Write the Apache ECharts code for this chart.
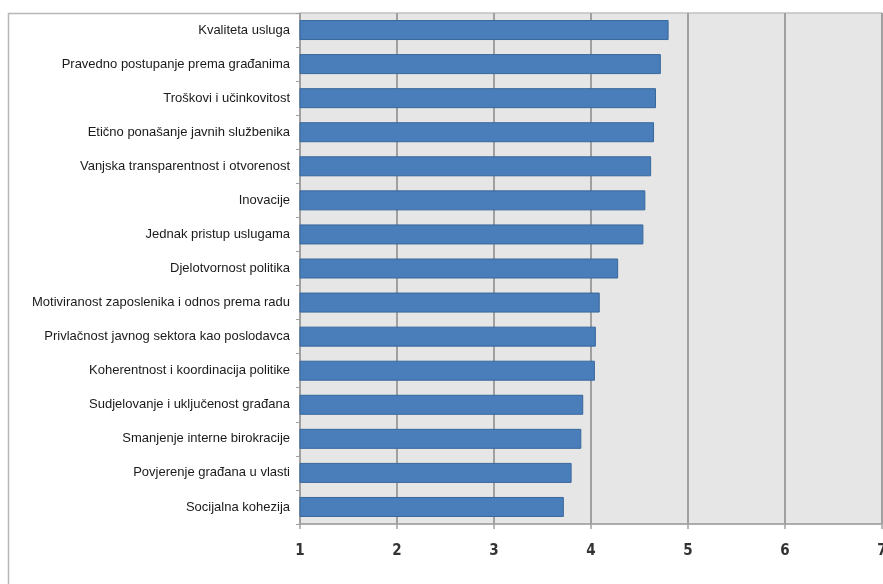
<!DOCTYPE html>
<html><head><meta charset="utf-8">
<script src="https://cdn.jsdelivr.net/npm/echarts@6/dist/echarts.min.js"></script>
<style>html,body{margin:0;padding:0;background:#fff}#c{width:883px;height:584px}</style>
</head><body><div id="c"></div>
<script>
const categories = [
  "Kvaliteta usluga",
  "Pravedno postupanje prema građanima",
  "Troškovi i učinkovitost",
  "Etično ponašanje javnih službenika",
  "Vanjska transparentnost i otvorenost",
  "Inovacije",
  "Jednak pristup uslugama",
  "Djelotvornost politika",
  "Motiviranost zaposlenika i odnos prema radu",
  "Privlačnost javnog sektora kao poslodavca",
  "Koherentnost i koordinacija politike",
  "Sudjelovanje i uključenost građana",
  "Smanjenje interne birokracije",
  "Povjerenje građana u vlasti",
  "Socijalna kohezija"
];
const values = [4.80, 4.72, 4.67, 4.65, 4.62, 4.56, 4.54, 4.28, 4.09, 4.05, 4.04, 3.92, 3.90, 3.80, 3.72];
const xTicks = [1, 2, 3, 4, 5, 6, 7];

const chart = echarts.init(document.getElementById('c'));
chart.setOption({
  animation: false,
  graphic: [{
    type: 'rect', silent: true, z: -10,
    shape: { x: 8.5, y: 13.5, width: 1000, height: 1000 },
    style: { fill: 'none', stroke: '#b8b8b8', lineWidth: 1.5 }
  }],
  grid: {
    left: 300, right: 1, top: 13, bottom: 60,
    outerBoundsMode: 'none', containLabel: false,
    show: true, backgroundColor: '#e6e6e6', borderColor: '#b0b0b0', borderWidth: 1
  },
  xAxis: {
    type: 'value', min: xTicks[0], max: xTicks[xTicks.length - 1], interval: 1,
    axisLine: { show: true, lineStyle: { color: '#a0a0a0', width: 1.5 } },
    axisTick: { show: true, length: 5, lineStyle: { color: '#a0a0a0', width: 1.5 } },
    splitLine: { show: true, lineStyle: { color: '#a0a0a0', width: 2 } },
    axisLabel: { color: '#333', fontSize: 15, fontWeight: 'bold', fontFamily: 'DejaVu Sans Condensed', margin: 20,
      formatter: v => xTicks.includes(v) ? String(v) : '' }
  },
  yAxis: {
    type: 'category', data: categories, inverse: true,
    axisLine: { show: true, lineStyle: { color: '#a0a0a0' } },
    axisTick: { show: true, length: 4, lineStyle: { color: '#a0a0a0' } },
    axisLabel: { color: '#1a1a1a', fontSize: 13, fontFamily: 'Liberation Sans', margin: 10 }
  },
  series: [{
    type: 'bar', data: values, barWidth: 20,
    itemStyle: { color: '#4a7ebb', borderColor: '#37679b', borderWidth: 1 }
  }]
});
</script></body></html>
